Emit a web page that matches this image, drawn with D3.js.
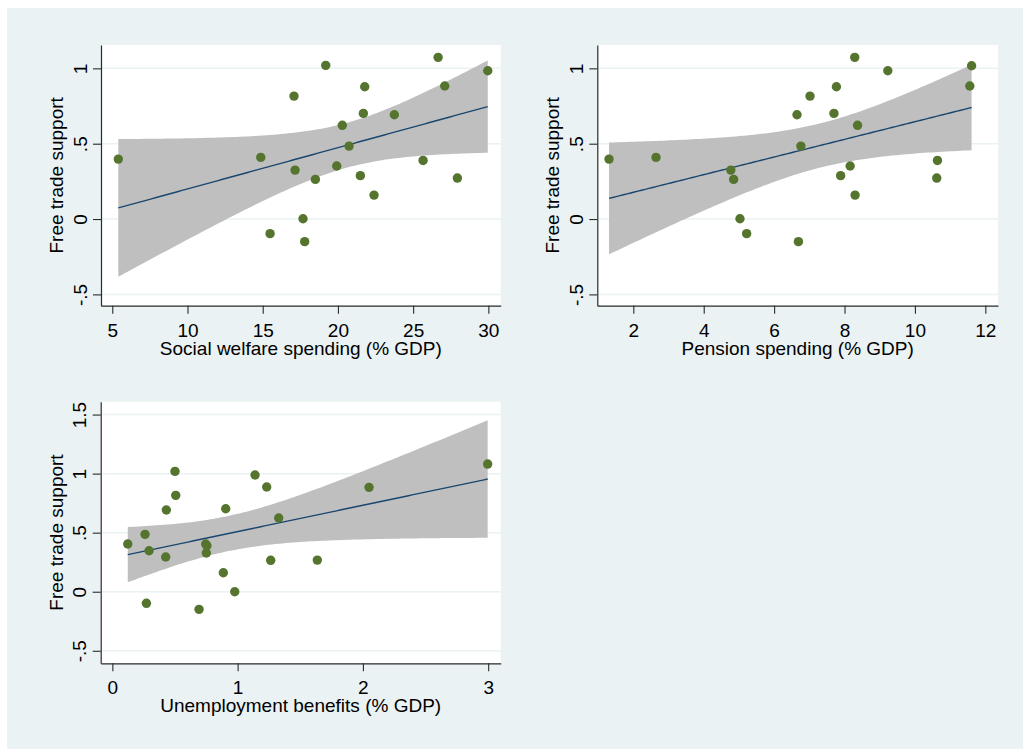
<!DOCTYPE html>
<html>
<head>
<meta charset="utf-8">
<script src="https://cdn.jsdelivr.net/npm/d3@7"></script>
<style>
  body { margin: 0; background: #fff; }
  svg text { font-family: "Liberation Sans", Arial, sans-serif; fill: #000; }
</style>
</head>
<body>
<div id="chart"></div>
<script>
// values
var welfare  = [5.40, 14.87, 17.08, 19.19, 21.78, 21.69, 20.29, 23.75, 26.66, 27.10, 29.96, 20.74, 19.92, 17.15, 18.50, 21.49, 22.40, 25.66, 27.94, 17.68, 15.49, 17.79];
var support1 = [0.398, 0.409, 0.816, 1.02, 0.878, 0.701, 0.622, 0.692, 1.073, 0.883, 0.984, 0.484, 0.352, 0.325, 0.263, 0.288, 0.159, 0.389, 0.272, 0.002, -0.097, -0.150];

var pension  = [1.31, 2.645, 4.77, 4.85, 5.03, 5.22, 6.69, 6.65, 7.02, 6.76, 7.77, 7.70, 8.29, 8.37, 8.16, 7.89, 8.30, 9.23, 10.64, 10.62, 11.61, 11.56];
var support2 = [0.398, 0.409, 0.325, 0.263, 0.002, -0.097, -0.150, 0.692, 0.816, 0.484, 0.878, 0.701, 1.073, 0.622, 0.352, 0.288, 0.159, 0.984, 0.389, 0.272, 1.017, 0.883];

var unemp    = [0.123, 0.261, 0.293, 0.272, 0.426, 0.431, 0.500, 0.506, 0.692, 0.745, 0.750, 0.905, 0.886, 0.977, 1.139, 1.232, 1.328, 1.264, 1.636, 2.049, 2.996, 0.755];
var support3 = [0.404, 0.486, 0.347, -0.098, 0.294, 0.692, 1.019, 0.816, -0.149, 0.404, 0.328, 0.703, 0.161, 0, 0.988, 0.887, 0.624, 0.266, 0.268, 0.884, 1.081, 0.389];

var xTicks1 = [5, 10, 15, 20, 25, 30];
var xTicks2 = [2, 4, 6, 8, 10, 12];
var xTicks3 = [0, 1, 2, 3];
var yTicks12 = [-0.5, 0, 0.5, 1];
var yTicks3 = [-0.5, 0, 0.5, 1, 1.5];

var yTitle = "Free trade support";

var panels = [
  {xs: welfare, ys: support1, xt: xTicks1, yt: yTicks12, xTitle: "Social welfare spending (% GDP)",
   left: 101, right: 500.7, top: 45, bottom: 305.7, xdom: [4.25, 30.82], ydom: [-0.575, 1.155]},
  {xs: pension, ys: support2, xt: xTicks2, yt: yTicks12, xTitle: "Pension spending (% GDP)",
   left: 597.3, right: 998, top: 45, bottom: 305.7, xdom: [0.977, 12.36], ydom: [-0.575, 1.155]},
  {xs: unemp, ys: support3, xt: xTicks3, yt: yTicks3, xTitle: "Unemployment benefits (% GDP)",
   left: 100.7, right: 500.7, top: 401.7, bottom: 663.3, xdom: [-0.093, 3.10], ydom: [-0.606, 1.609]}
];

var bg = "#eaf2f3";
var fs = 19;
var svg = d3.select("#chart").append("svg")
  .attr("width", 1023).attr("height", 749);

svg.append("rect").attr("width", 1023).attr("height", 749).attr("fill", "#fff");
svg.append("rect").attr("x", 7).attr("y", 8).attr("width", 1016).attr("height", 741).attr("fill", bg);

// stata style labels: .5 instead of 0.5
function fmt(d) {
  if (d === 0) return "0";
  return String(d).replace("0.", ".");
}

// ols fit with 95% CI of the mean (like lfitci)
function fit(xs, ys) {
  var n = xs.length;
  var mx = d3.mean(xs), my = d3.mean(ys);
  var sxx = 0, sxy = 0;
  for (var i = 0; i < n; i++) {
    sxx += (xs[i] - mx) * (xs[i] - mx);
    sxy += (xs[i] - mx) * (ys[i] - my);
  }
  var b = sxy / sxx, a = my - b * mx;
  var sse = 0;
  for (var i = 0; i < n; i++) {
    var r = ys[i] - (a + b * xs[i]);
    sse += r * r;
  }
  var s = Math.sqrt(sse / (n - 2));
  var t = 2.086; // t(0.975, 20 df)
  var lo = d3.min(xs), hi = d3.max(xs);
  var pts = [];
  for (var k = 0; k <= 100; k++) {
    var x = lo + (hi - lo) * k / 100;
    var yh = a + b * x;
    var se = s * Math.sqrt(1 / n + (x - mx) * (x - mx) / sxx);
    pts.push({x: x, y: yh, lo: yh - t * se, hi: yh + t * se});
  }
  return pts;
}

panels.forEach(function(p) {
  var x = d3.scaleLinear().domain(p.xdom).range([p.left, p.right]);
  var y = d3.scaleLinear().domain(p.ydom).range([p.bottom, p.top]);
  var g = svg.append("g");

  g.append("rect")
    .attr("x", p.left).attr("y", p.top)
    .attr("width", p.right - p.left).attr("height", p.bottom - p.top)
    .attr("fill", "#fff");

  // grid
  g.selectAll(".grid").data(p.yt).enter().append("line")
    .attr("x1", p.left).attr("x2", p.right)
    .attr("y1", function(d) { return y(d); }).attr("y2", function(d) { return y(d); })
    .attr("stroke", bg).attr("stroke-width", 1.5);

  var f = fit(p.xs, p.ys);

  g.append("path")
    .datum(f)
    .attr("fill", "#bfbfbf")
    .attr("d", d3.area()
      .x(function(d) { return x(d.x); })
      .y0(function(d) { return y(d.lo); })
      .y1(function(d) { return y(d.hi); }));

  g.append("path")
    .datum(f)
    .attr("fill", "none")
    .attr("stroke", "#1a476f")
    .attr("stroke-width", 1.4)
    .attr("d", d3.line()
      .x(function(d) { return x(d.x); })
      .y(function(d) { return y(d.y); }));

  g.selectAll(".dot").data(p.xs).enter().append("circle")
    .attr("cx", function(d) { return x(d); })
    .attr("cy", function(d, i) { return y(p.ys[i]); })
    .attr("r", 4.7)
    .attr("fill", "#55752f");

  // axes
  var ax = g.append("g")
    .attr("transform", "translate(0," + p.bottom + ")")
    .call(d3.axisBottom(x).tickValues(p.xt).tickFormat(fmt).tickSize(8).tickSizeOuter(0));
  ax.selectAll("text").attr("font-size", fs).attr("dy", null).attr("y", 31)
    .style("font-family", "'Liberation Sans', Arial, sans-serif");

  var ay = g.append("g")
    .attr("transform", "translate(" + p.left + ",0)")
    .call(d3.axisLeft(y).tickValues(p.yt).tickFormat(fmt).tickSize(8).tickSizeOuter(0));
  ay.selectAll(".tick text")
    .attr("x", null).attr("dy", null)
    .attr("text-anchor", "middle")
    .attr("font-size", fs)
    .style("font-family", "'Liberation Sans', Arial, sans-serif")
    .attr("transform", "translate(-14.5,0) rotate(-90)");

  [ax, ay].forEach(function(a) {
    a.select(".domain").attr("stroke", "#2a2a2a").attr("stroke-width", 1.2);
    a.selectAll(".tick line").attr("stroke", "#2a2a2a").attr("stroke-width", 1.1);
  });

  g.append("text")
    .attr("x", (p.left + p.right) / 2).attr("y", p.bottom + 49)
    .attr("text-anchor", "middle").attr("font-size", fs)
    .text(p.xTitle);

  g.append("text")
    .attr("transform", "translate(" + (p.left - 38) + "," + ((p.top + p.bottom) / 2) + ") rotate(-90)")
    .attr("text-anchor", "middle").attr("font-size", fs)
    .text(yTitle);
});
</script>
</body>
</html>
